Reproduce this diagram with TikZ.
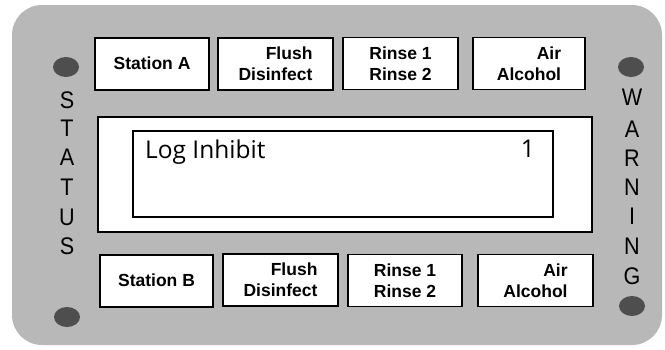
\documentclass[tikz,border=0pt]{standalone}
\usepackage{fontspec}
\setmainfont{Liberation Sans}
\newfontfamily\lcdfont{Open Sans}
\usetikzlibrary{shapes.geometric}
\definecolor{panelgray}{HTML}{B8B8B8}
\definecolor{dotgray}{HTML}{4E4E4E}
\begin{document}
\begin{tikzpicture}[x=1pt,y=-1pt,
  btn/.style={draw, line width=1.8pt, fill=white, minimum width=114pt, minimum height=52pt,
    inner sep=0pt, font=\bfseries\fontsize{17.5}{21}\selectfont, align=center},
  btnr/.style={btn, align=right},
  frame/.style={draw, line width=2.2pt, fill=white, inner sep=0pt},
  lamp/.style={ellipse, fill=dotgray, minimum width=26pt, minimum height=20pt, inner sep=0pt},
  vlet/.style={font=\fontsize{24}{24}\selectfont, inner sep=0pt, anchor=center, xscale=0.9},
  lcd/.style={font=\lcdfont\fontsize{24.5}{24.5}\selectfont, inner sep=0pt}]
\useasboundingbox (0,0) rectangle (665,349);
% panel
\fill[panelgray, rounded corners=30pt] (12,5) rectangle (662,345);
% lamps
\node[lamp] (lampTL) at (66,67) {};
\node[lamp] (lampTR) at (631,67) {};
\node[lamp] (lampBL) at (67,317) {};
\node[lamp] (lampBR) at (632,306) {};
% STATUS
\foreach \l/\y [count=\i] in {S/100,T/128,A/157,T/187,U/217,S/246}
  \node[vlet] (status\i) at (67,\y) {\l};
% WARNING
\foreach \l/\y [count=\i] in {W/97,A/129,R/158,N/187,I/216,N/246,G/276}
  \node[vlet] (warn\i) at (632,\y) {\l};
% top buttons
\node[btn, minimum width=114pt] (stA) at (152,64) {\raisebox{2pt}{Station A}};
\node[btnr, minimum width=115pt] (flA) at (275.5,64) {Flush\\Disinfect};
\node[btn, minimum width=115pt] (riA) at (400.5,63.5) {Rinse 1\\Rinse 2};
\node[btnr, minimum width=112pt] (aiA) at (529,63.5) {Air\\Alcohol};
% display
\node[frame, minimum width=494pt, minimum height=115pt] (outer) at (345,174.5) {};
\node[frame, minimum width=420pt, minimum height=86pt] (inner) at (343,174) {};
\node[lcd, anchor=base west] (logtxt) at (145,158) {Log Inhibit};
\node[lcd, anchor=base east] (lognum) at (535,157) {1};
% bottom buttons
\node[btn, minimum width=113pt] (stB) at (156.5,281) {\raisebox{2pt}{Station B}};
\node[btnr, minimum width=115pt] (flB) at (280.5,280) {Flush\\Disinfect};
\node[btn, minimum width=114pt] (riB) at (405,280.5) {Rinse 1\\Rinse 2};
\node[btnr, minimum width=115pt] (aiB) at (535.5,280.5) {Air\\Alcohol};
\end{tikzpicture}
\end{document}
